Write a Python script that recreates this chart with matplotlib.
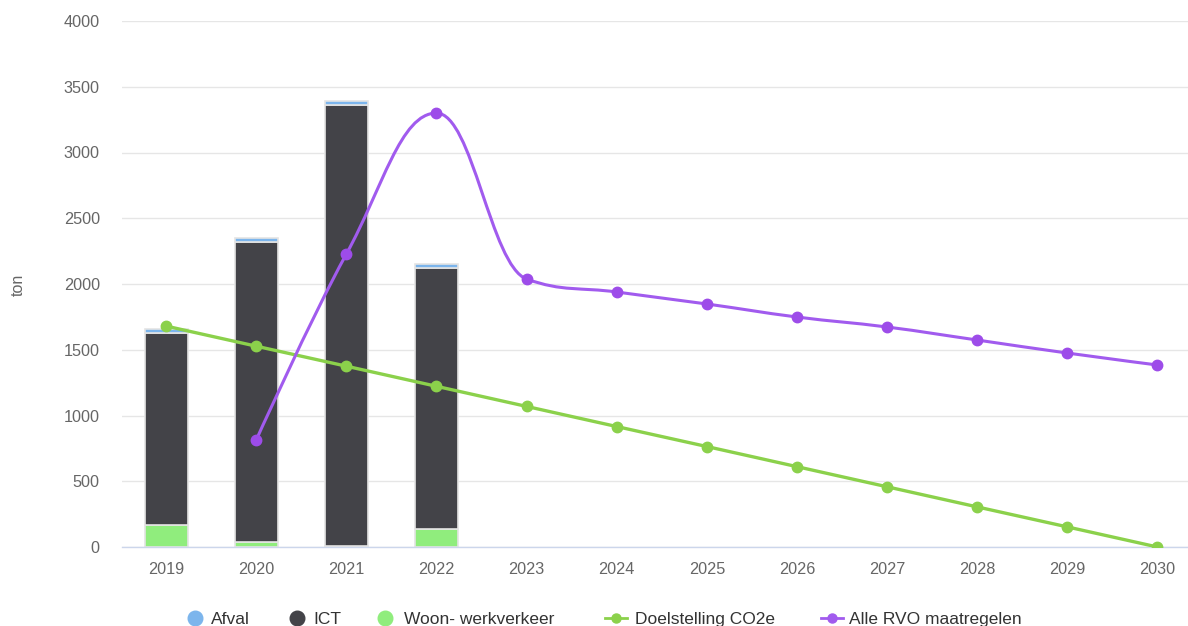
import numpy as np
import matplotlib
matplotlib.use("Agg")
import matplotlib.pyplot as plt
from matplotlib.path import Path
from matplotlib.patches import PathPatch
from matplotlib.lines import Line2D

# ── Data ──────────────────────────────────────────────────────────────────────
years = ["2019", "2020", "2021", "2022", "2023", "2024", "2025", "2026",
         "2027", "2028", "2029", "2030"]

# gestapelde kolommen (2019-2022)
woon_werk = [165, 40, 5, 135]
ict       = [1460, 2280, 3355, 1985]
afval     = [30, 30, 35, 30]

doelstelling = [1680, 1527, 1375, 1222, 1069, 916, 764, 611, 458, 305, 153, 0]
# 2019 heeft geen RVO waarde
rvo_years = years[1:]
rvo       = [814, 2228, 3300, 2038, 1939, 1848, 1749, 1673, 1574, 1475, 1384]

C_AFVAL = "#7cb5ec"
C_ICT   = "#434348"
C_WOON  = "#90ed7d"
C_DOEL  = "#8bd14b"
C_RVO   = "#a15bee"
C_TEXT  = "#666666"

plt.rcParams["font.family"] = ["Liberation Sans", "DejaVu Sans"]


def spline_path(xs, ys, smoothing=1.5):
    """Bezier pad op de manier van Highcharts 'spline'."""
    n = len(xs)
    denom = smoothing + 1
    lc = [(x, y) for x, y in zip(xs, ys)]
    rc = [(x, y) for x, y in zip(xs, ys)]
    for i in range(1, n - 1):
        px, py = xs[i], ys[i]
        lx, ly = xs[i - 1], ys[i - 1]
        nx, ny = xs[i + 1], ys[i + 1]
        lcx = (smoothing * px + lx) / denom
        lcy = (smoothing * py + ly) / denom
        rcx = (smoothing * px + nx) / denom
        rcy = (smoothing * py + ny) / denom
        if rcx != lcx:
            corr = ((rcy - lcy) * (rcx - px)) / (rcx - lcx) + py - rcy
            lcy += corr
            rcy += corr
        if lcy > ly and lcy > py:
            lcy = max(ly, py)
            rcy = 2 * py - lcy
        elif lcy < ly and lcy < py:
            lcy = min(ly, py)
            rcy = 2 * py - lcy
        if rcy > ny and rcy > py:
            rcy = max(ny, py)
            lcy = 2 * py - rcy
        elif rcy < ny and rcy < py:
            rcy = min(ny, py)
            lcy = 2 * py - rcy
        lc[i] = (lcx, lcy)
        rc[i] = (rcx, rcy)
    verts = [(xs[0], ys[0])]
    codes = [Path.MOVETO]
    for i in range(1, n):
        verts += [rc[i - 1], lc[i], (xs[i], ys[i])]
        codes += [Path.CURVE4] * 3
    return Path(verts, codes)


fig = plt.figure(figsize=(11.88, 6.26), dpi=100)
ax = fig.add_axes([122 / 1188, 1 - 547 / 626, 1 - 122 / 1188, (547 - 21) / 626])

x = np.arange(len(years))
xb = x[:len(ict)]
bw = 0.48
edge = dict(edgecolor="#e4e4e4", linewidth=1.2)

ax.bar(xb, woon_werk, bw, color=C_WOON, zorder=2, **edge)
ax.bar(xb, ict, bw, bottom=woon_werk, color=C_ICT, zorder=2, **edge)
bottom2 = [a + b for a, b in zip(woon_werk, ict)]
ax.bar(xb, afval, bw, bottom=bottom2, color=C_AFVAL, zorder=2, **edge)

# Doelstelling CO2e
ax.add_patch(PathPatch(spline_path(list(x), doelstelling), fill=False,
                       edgecolor=C_DOEL, lw=2.4, zorder=3, capstyle="round"))
ax.plot(x, doelstelling, "o", color=C_DOEL, ms=7.5, zorder=4)

# Alle RVO maatregelen
xr = list(x[1:])
ax.add_patch(PathPatch(spline_path(xr, rvo), fill=False,
                       edgecolor=C_RVO, lw=2.2, zorder=3, capstyle="round"))
ax.plot(xr, rvo, "o", color="#9d4ce9", ms=7.5, zorder=4)

ax.set_xlim(-0.49, 11.34)
ax.set_ylim(0, 4000)
ax.set_yticks(np.arange(0, 4001, 500))
ax.set_xticks(x)
ax.set_xticklabels(years)
ax.tick_params(axis="both", length=0, colors=C_TEXT, labelsize=11.7)
ax.tick_params(axis="x", pad=11)
ax.tick_params(axis="y", pad=16)
ax.grid(axis="y", color="#e6e6e6", lw=1, zorder=0)
ax.set_axisbelow(True)
for s in ["top", "right", "left"]:
    ax.spines[s].set_visible(False)
ax.spines["bottom"].set_color("#ccd6eb")
ax.spines["bottom"].set_linewidth(1)

fig.text(18 / 1188, 1 - 285 / 626, "ton", rotation=90, ha="center", va="center",
         color=C_TEXT, fontsize=11.5)

# ── Legenda ──────────────────────────────────────────────────────────────────
ly = 1 - 618 / 626
# (label, kleur, marker-x, tekst-x, soort)
legend_items = [
    ("Afval", C_AFVAL, 195, 211, "dot"),
    ("ICT", C_ICT, 297, 313, "dot"),
    ("Woon- werkverkeer", C_WOON, 385, 404, "dot"),
    ("Doelstelling CO2e", C_DOEL, 616, 635, "line"),
    ("Alle RVO maatregelen", C_RVO, 832, 849, "line"),
]
for label, col, px, tx, kind in legend_items:
    fx = px / 1188
    if kind == "dot":
        fig.add_artist(Line2D([fx], [ly], marker="o", ms=10.5, color=col,
                              transform=fig.transFigure))
    else:
        fig.add_artist(Line2D([(px - 11) / 1188, (px + 11) / 1188], [ly, ly],
                              color=col, lw=2, transform=fig.transFigure))
        fig.add_artist(Line2D([fx], [ly], marker="o", ms=6.5, color=col,
                              transform=fig.transFigure))
    fig.text(tx / 1188, ly, label, ha="left", va="center_baseline", color="#333333",
             fontsize=12.5)

fig.savefig("out.png", dpi=100)
